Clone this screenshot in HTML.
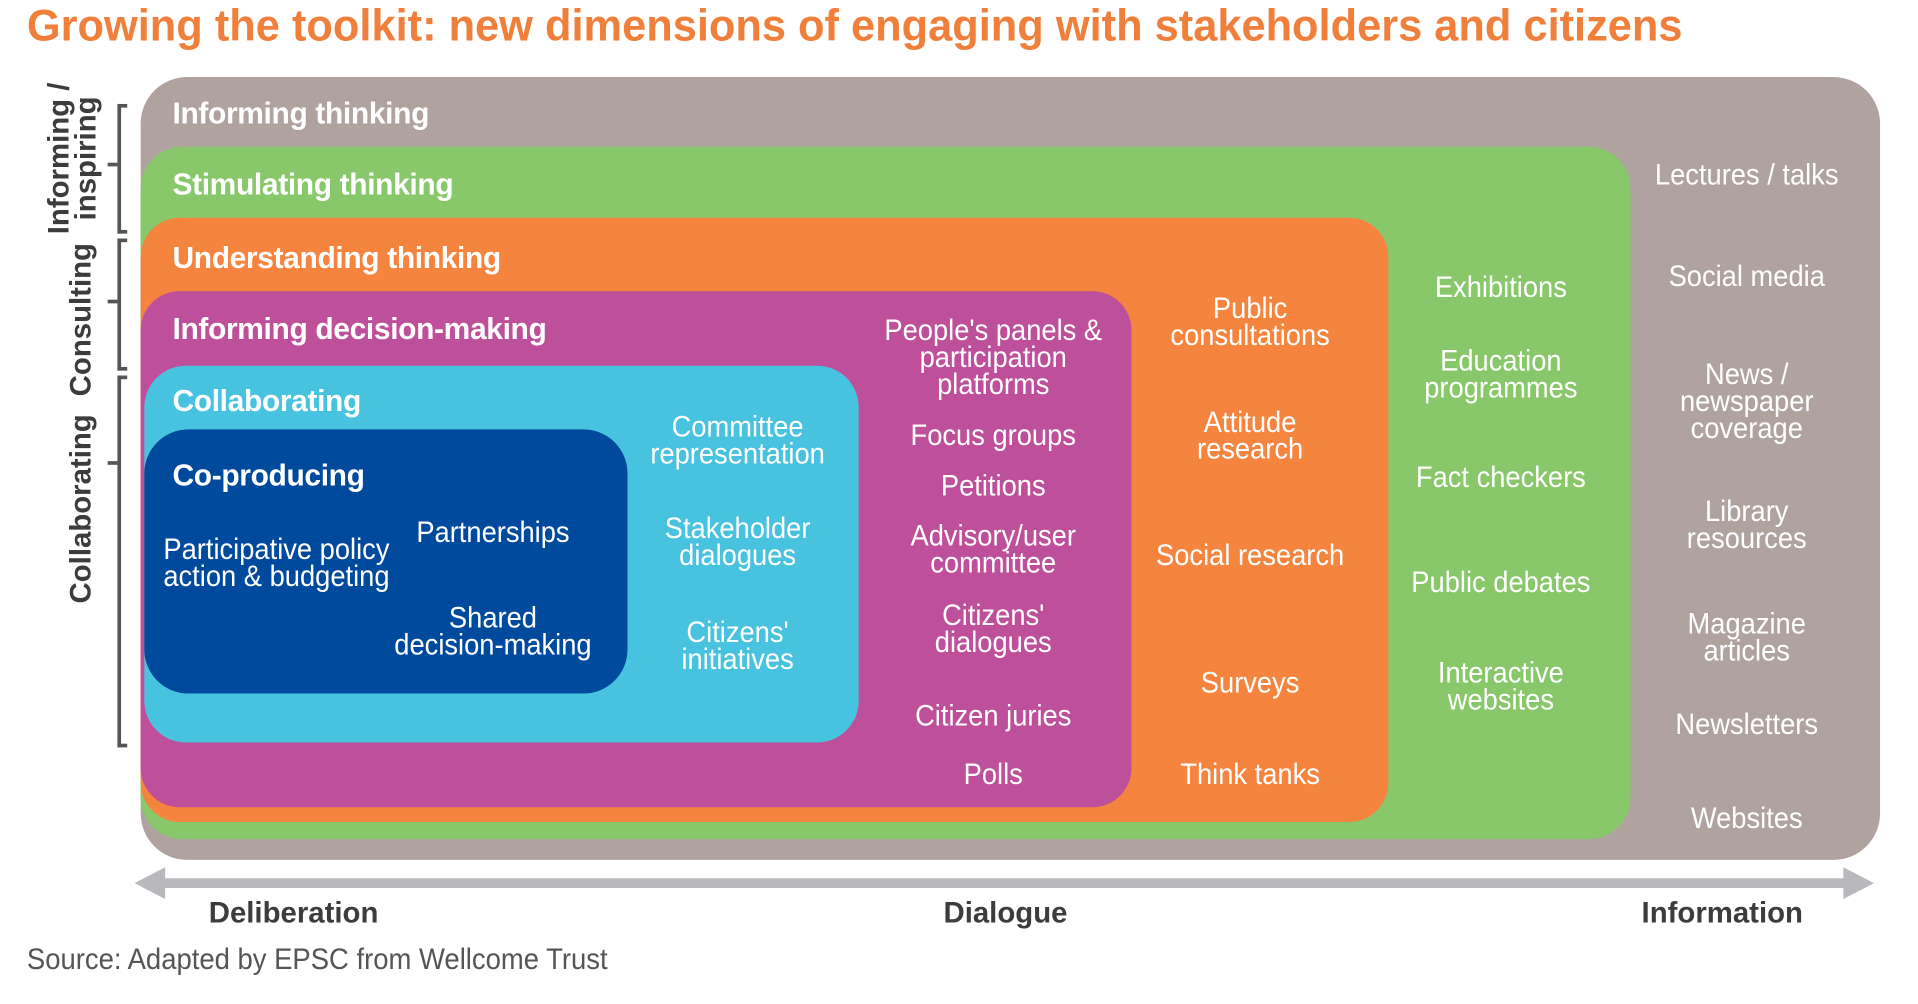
<!DOCTYPE html>
<html><head><meta charset="utf-8"><style>
html,body{margin:0;padding:0;background:#fff;overflow:hidden}
#wrap{position:relative;width:1568px;height:821px;transform:scale(1.2232);transform-origin:0 0;font-family:"Liberation Sans Narrow","Liberation Sans",sans-serif}
.box{position:absolute}
.t{position:absolute;color:#fff;font-size:24px;line-height:22px;text-align:center;white-space:nowrap;transform:translateX(-50%) scaleX(0.93)}
.h{position:absolute;color:#fff;font-weight:bold;font-size:25px;font-family:"Liberation Sans",sans-serif;letter-spacing:-0.3px;transform:scaleX(0.98);transform-origin:0 0;white-space:nowrap}
.side{position:absolute;font-weight:bold;font-size:24px;color:#3c3c3c;transform:rotate(-90deg);transform-origin:0 0;line-height:22px;text-align:center;white-space:nowrap}
.br{position:absolute;border:3px solid #555;border-right:none;width:5px}
.tick{position:absolute;height:3px;width:8px;background:#555}
</style></head><body>
<div id="wrap">
<div style="position:absolute;left:22px;top:0px;color:#F07F3C;font-weight:bold;font-size:36px;font-family:'Liberation Sans',sans-serif;white-space:nowrap;transform:scaleX(0.985);transform-origin:0 0">Growing the toolkit: new dimensions of engaging with stakeholders and citizens</div>

<div class="box" style="left:115px;top:63px;width:1422px;height:640px;background:#B0A29E;border-radius:38px"></div>
<div class="box" style="left:115px;top:120px;width:1218px;height:566px;background:#88C86A;border-radius:34px"></div>
<div class="box" style="left:115px;top:178px;width:1020px;height:494px;background:#F5843F;border-radius:32px"></div>
<div class="box" style="left:115px;top:238px;width:810px;height:422px;background:#BE4F9A;border-radius:32px"></div>
<div class="box" style="left:118px;top:299px;width:584px;height:308px;background:#48C3DF;border-radius:34px"></div>
<div class="box" style="left:118px;top:351px;width:395px;height:216px;background:#004A9E;border-radius:36px"></div>

<div class="h" style="left:141px;top:79px">Informing thinking</div>
<div class="h" style="left:141px;top:137px">Stimulating thinking</div>
<div class="h" style="left:141px;top:197px">Understanding thinking</div>
<div class="h" style="left:141px;top:255px">Informing decision-making</div>
<div class="h" style="left:141px;top:314px">Collaborating</div>
<div class="h" style="left:141px;top:375px">Co-producing</div>

<div class="t" style="left:226px;top:439px">Participative policy<br>action &amp; budgeting</div>
<div class="t" style="left:403px;top:425px">Partnerships</div>
<div class="t" style="left:403px;top:495px">Shared<br>decision-making</div>
<div class="t" style="left:603px;top:339px">Committee<br>representation</div>
<div class="t" style="left:603px;top:422px">Stakeholder<br>dialogues</div>
<div class="t" style="left:603px;top:507px">Citizens'<br>initiatives</div>
<div class="t" style="left:812px;top:260px">People's panels &amp;<br>participation<br>platforms</div>
<div class="t" style="left:812px;top:346px">Focus groups</div>
<div class="t" style="left:812px;top:387px">Petitions</div>
<div class="t" style="left:812px;top:428px">Advisory/user<br>committee</div>
<div class="t" style="left:812px;top:493px">Citizens'<br>dialogues</div>
<div class="t" style="left:812px;top:575px">Citizen juries</div>
<div class="t" style="left:812px;top:623px">Polls</div>
<div class="t" style="left:1022px;top:242px">Public<br>consultations</div>
<div class="t" style="left:1022px;top:335px">Attitude<br>research</div>
<div class="t" style="left:1022px;top:444px">Social research</div>
<div class="t" style="left:1022px;top:548px">Surveys</div>
<div class="t" style="left:1022px;top:623px">Think tanks</div>
<div class="t" style="left:1227px;top:225px">Exhibitions</div>
<div class="t" style="left:1227px;top:285px">Education<br>programmes</div>
<div class="t" style="left:1227px;top:380px">Fact checkers</div>
<div class="t" style="left:1227px;top:466px">Public debates</div>
<div class="t" style="left:1227px;top:540px">Interactive<br>websites</div>
<div class="t" style="left:1428px;top:133px">Lectures / talks</div>
<div class="t" style="left:1428px;top:216px">Social media</div>
<div class="t" style="left:1428px;top:296px">News /<br>newspaper<br>coverage</div>
<div class="t" style="left:1428px;top:408px">Library<br>resources</div>
<div class="t" style="left:1428px;top:500px">Magazine<br>articles</div>
<div class="t" style="left:1428px;top:582px">Newsletters</div>
<div class="t" style="left:1428px;top:659px">Websites</div>

<div class="br" style="left:96px;top:85px;height:100px"></div>
<div class="tick" style="left:88px;top:133px"></div>
<div class="br" style="left:96px;top:195px;height:102px"></div>
<div class="tick" style="left:88px;top:245px"></div>
<div class="br" style="left:96px;top:307px;height:298px"></div>
<div class="tick" style="left:88px;top:377px"></div>
<div class="side" style="left:38px;top:192px;width:125px">Informing /<br>inspiring</div>
<div class="side" style="left:56px;top:324px;width:125px">Consulting</div>
<div class="side" style="left:56px;top:494px;width:156px">Collaborating</div>

<svg style="position:absolute;left:110px;top:707px" width="1425" height="30">
<rect x="20" y="11" width="1385" height="8" fill="#B9B9BD"/>
<polygon points="0,15 25,2 25,28" fill="#B9B9BD"/>
<polygon points="1422,15 1397,2 1397,28" fill="#B9B9BD"/>
</svg>
<div style="position:absolute;left:240px;top:733px;transform:translateX(-50%);font-weight:bold;font-size:24px;color:#3c3c3c">Deliberation</div>
<div style="position:absolute;left:822px;top:733px;transform:translateX(-50%);font-weight:bold;font-size:24px;color:#3c3c3c">Dialogue</div>
<div style="position:absolute;left:1408px;top:733px;transform:translateX(-50%);font-weight:bold;font-size:24px;color:#3c3c3c">Information</div>
<div style="position:absolute;left:22px;top:771px;font-size:24px;color:#555;white-space:nowrap;transform:scaleX(0.935);transform-origin:0 0">Source: Adapted by EPSC from Wellcome Trust</div>
</div>
</body></html>
